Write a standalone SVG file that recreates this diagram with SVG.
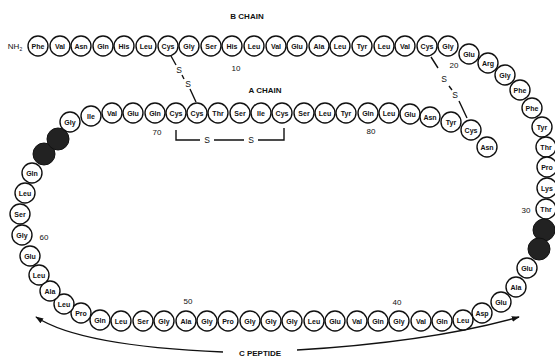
<svg xmlns="http://www.w3.org/2000/svg" width="555" height="362" viewBox="0 0 555 362">
<style>
.r circle{fill:#fff;stroke:#111;stroke-width:1.4}
.r text{font-family:"Liberation Sans",Arial,sans-serif;font-size:7px;font-weight:bold;fill:#111;text-anchor:middle}
.d circle{fill:#222;stroke:#111;stroke-width:1}
.lbl{font-family:"Liberation Sans",Arial,sans-serif;font-weight:bold;fill:#111;text-anchor:middle}
.num{font-family:"Liberation Sans",Arial,sans-serif;font-size:8px;fill:#111;text-anchor:middle}
.ln{fill:none;stroke:#111;stroke-width:1.4}
.ss{font-family:"Liberation Sans",Arial,sans-serif;font-size:8.5px;fill:#111;text-anchor:middle}
</style>
<defs>
<marker id="ah" viewBox="0 0 10 10" refX="9" refY="5" markerWidth="8" markerHeight="8" orient="auto-start-reverse" markerUnits="userSpaceOnUse">
<path d="M0,1.5 L10,5 L0,8.5 Z" fill="#111"/>
</marker>
</defs>
<rect width="555" height="362" fill="#fff"/>

<text class="lbl" x="247" y="19" font-size="8">B CHAIN</text>
<text class="lbl" x="265" y="93" font-size="8">A CHAIN</text>
<text class="lbl" x="260" y="356" font-size="8">C PEPTIDE</text>
<text class="num" x="15" y="49" font-size="7">NH<tspan font-size="5" dy="2">2</tspan></text>

<g id="labels">
<text class="num" x="236" y="71">10</text>
<text class="num" x="454" y="68">20</text>
<text class="num" x="526" y="213">30</text>
<text class="num" x="397" y="305">40</text>
<text class="num" x="188" y="304">50</text>
<text class="num" x="44" y="240">60</text>
<text class="num" x="157" y="135">70</text>
<text class="num" x="371" y="134">80</text>
</g>

<g id="connectors">
<path class="ln" d="M171,56 L176,65 M182,75 L184,79 M190,89 L196,102"/>
<text class="ss" x="179" y="73">S</text>
<text class="ss" x="188" y="87">S</text>
<path class="ln" d="M431,57 L438,68 M449,86 L452,90 M459,101 L467,118"/>
<text class="ss" x="444" y="82">S</text>
<text class="ss" x="455" y="98">S</text>
<path class="ln" d="M176,130 V140 H200 M214,140 H244 M258,140 H284 V128"/>
<text class="ss" x="207" y="143">S</text>
<text class="ss" x="251" y="143">S</text>
<path class="ln" marker-start="url(#ah)" d="M36,317 Q80,346 223,352"/>
<path class="ln" marker-end="url(#ah)" d="M297,350 Q430,342 519,317"/>
</g>

<g id="b1" class="r"><circle cx="38" cy="46" r="10"/><text x="38" y="48.5">Phe</text></g>
<g id="b2" class="r"><circle cx="60" cy="46" r="10"/><text x="60" y="48.5">Val</text></g>
<g id="b3" class="r"><circle cx="81" cy="46" r="10"/><text x="81" y="48.5">Asn</text></g>
<g id="b4" class="r"><circle cx="103" cy="46" r="10"/><text x="103" y="48.5">Gln</text></g>
<g id="b5" class="r"><circle cx="124" cy="46" r="10"/><text x="124" y="48.5">His</text></g>
<g id="b6" class="r"><circle cx="146" cy="46" r="10"/><text x="146" y="48.5">Leu</text></g>
<g id="b7" class="r"><circle cx="168" cy="46" r="10"/><text x="168" y="48.5">Cys</text></g>
<g id="b8" class="r"><circle cx="189" cy="46" r="10"/><text x="189" y="48.5">Gly</text></g>
<g id="b9" class="r"><circle cx="211" cy="46" r="10"/><text x="211" y="48.5">Ser</text></g>
<g id="b10" class="r"><circle cx="232" cy="46" r="10"/><text x="232" y="48.5">His</text></g>
<g id="b11" class="r"><circle cx="254" cy="46" r="10"/><text x="254" y="48.5">Leu</text></g>
<g id="b12" class="r"><circle cx="276" cy="46" r="10"/><text x="276" y="48.5">Val</text></g>
<g id="b13" class="r"><circle cx="297" cy="46" r="10"/><text x="297" y="48.5">Glu</text></g>
<g id="b14" class="r"><circle cx="319" cy="46" r="10"/><text x="319" y="48.5">Ala</text></g>
<g id="b15" class="r"><circle cx="340" cy="46" r="10"/><text x="340" y="48.5">Leu</text></g>
<g id="b16" class="r"><circle cx="362" cy="46" r="10"/><text x="362" y="48.5">Tyr</text></g>
<g id="b17" class="r"><circle cx="384" cy="46" r="10"/><text x="384" y="48.5">Leu</text></g>
<g id="b18" class="r"><circle cx="405" cy="46" r="10"/><text x="405" y="48.5">Val</text></g>
<g id="b19" class="r"><circle cx="427" cy="46" r="10"/><text x="427" y="48.5">Cys</text></g>
<g id="b20" class="r"><circle cx="448" cy="46" r="10"/><text x="448" y="48.5">Gly</text></g>
<g id="b21" class="r"><circle cx="469" cy="54" r="10"/><text x="469" y="56.5">Glu</text></g>
<g id="b22" class="r"><circle cx="488" cy="63" r="10"/><text x="488" y="65.5">Arg</text></g>
<g id="b23" class="r"><circle cx="505" cy="75" r="10"/><text x="505" y="77.5">Gly</text></g>
<g id="b24" class="r"><circle cx="520" cy="90" r="10"/><text x="520" y="92.5">Phe</text></g>
<g id="b25" class="r"><circle cx="532" cy="108" r="10"/><text x="532" y="110.5">Phe</text></g>
<g id="b26" class="r"><circle cx="542" cy="127" r="10"/><text x="542" y="129.5">Tyr</text></g>
<g id="b27" class="r"><circle cx="546" cy="147" r="10"/><text x="546" y="149.5">Thr</text></g>
<g id="b28" class="r"><circle cx="547" cy="167" r="10"/><text x="547" y="169.5">Pro</text></g>
<g id="b29" class="r"><circle cx="547" cy="188" r="10"/><text x="547" y="190.5">Lys</text></g>
<g id="b30" class="r"><circle cx="546" cy="209" r="10"/><text x="546" y="211.5">Thr</text></g>

<g id="c31" class="d"><circle cx="544" cy="230" r="11"/></g>
<g id="c32" class="d"><circle cx="539" cy="249" r="11"/></g>
<g id="c33" class="r"><circle cx="527" cy="268" r="10"/><text x="527" y="270.5">Glu</text></g>
<g id="c34" class="r"><circle cx="516" cy="287" r="10"/><text x="516" y="289.5">Ala</text></g>
<g id="c35" class="r"><circle cx="501" cy="302" r="10"/><text x="501" y="304.5">Glu</text></g>
<g id="c36" class="r"><circle cx="482" cy="313" r="10"/><text x="482" y="315.5">Asp</text></g>
<g id="c37" class="r"><circle cx="463" cy="320" r="10"/><text x="463" y="322.5">Leu</text></g>
<g id="c38" class="r"><circle cx="442" cy="321" r="10"/><text x="442" y="323.5">Gln</text></g>
<g id="c39" class="r"><circle cx="421" cy="321" r="10"/><text x="421" y="323.5">Val</text></g>
<g id="c40" class="r"><circle cx="399" cy="321" r="10"/><text x="399" y="323.5">Gly</text></g>
<g id="c41" class="r"><circle cx="378" cy="321" r="10"/><text x="378" y="323.5">Gln</text></g>
<g id="c42" class="r"><circle cx="357" cy="321" r="10"/><text x="357" y="323.5">Val</text></g>
<g id="c43" class="r"><circle cx="335" cy="321" r="10"/><text x="335" y="323.5">Glu</text></g>
<g id="c44" class="r"><circle cx="314" cy="321" r="10"/><text x="314" y="323.5">Leu</text></g>
<g id="c45" class="r"><circle cx="292" cy="321" r="10"/><text x="292" y="323.5">Gly</text></g>
<g id="c46" class="r"><circle cx="271" cy="321" r="10"/><text x="271" y="323.5">Gly</text></g>
<g id="c47" class="r"><circle cx="250" cy="321" r="10"/><text x="250" y="323.5">Gly</text></g>
<g id="c48" class="r"><circle cx="228" cy="321" r="10"/><text x="228" y="323.5">Pro</text></g>
<g id="c49" class="r"><circle cx="207" cy="321" r="10"/><text x="207" y="323.5">Gly</text></g>
<g id="c50" class="r"><circle cx="186" cy="321" r="10"/><text x="186" y="323.5">Ala</text></g>
<g id="c51" class="r"><circle cx="164" cy="321" r="10"/><text x="164" y="323.5">Gly</text></g>
<g id="c52" class="r"><circle cx="143" cy="321" r="10"/><text x="143" y="323.5">Ser</text></g>
<g id="c53" class="r"><circle cx="121" cy="321" r="10"/><text x="121" y="323.5">Leu</text></g>
<g id="c54" class="r"><circle cx="100" cy="320" r="10"/><text x="100" y="322.5">Gln</text></g>
<g id="c55" class="r"><circle cx="81" cy="313" r="10"/><text x="81" y="315.5">Pro</text></g>
<g id="c56" class="r"><circle cx="64" cy="304" r="10"/><text x="64" y="306.5">Leu</text></g>
<g id="c57" class="r"><circle cx="50" cy="291" r="10"/><text x="50" y="293.5">Ala</text></g>
<g id="c58" class="r"><circle cx="39" cy="275" r="10"/><text x="39" y="277.5">Leu</text></g>
<g id="c59" class="r"><circle cx="30" cy="256" r="10"/><text x="30" y="258.5">Glu</text></g>
<g id="c60" class="r"><circle cx="22" cy="235" r="10"/><text x="22" y="237.5">Gly</text></g>
<g id="c61" class="r"><circle cx="20" cy="214" r="10"/><text x="20" y="216.5">Ser</text></g>
<g id="c62" class="r"><circle cx="25" cy="193" r="10"/><text x="25" y="195.5">Leu</text></g>
<g id="c63" class="r"><circle cx="32" cy="173" r="10"/><text x="32" y="175.5">Gln</text></g>
<g id="c64" class="d"><circle cx="44" cy="154" r="11"/></g>
<g id="c65" class="d"><circle cx="58" cy="139" r="11"/></g>

<g id="a1" class="r"><circle cx="70" cy="122" r="10"/><text x="70" y="124.5">Gly</text></g>
<g id="a2" class="r"><circle cx="91" cy="116" r="10"/><text x="91" y="118.5">Ile</text></g>
<g id="a3" class="r"><circle cx="112" cy="113" r="10"/><text x="112" y="115.5">Val</text></g>
<g id="a4" class="r"><circle cx="133" cy="113" r="10"/><text x="133" y="115.5">Glu</text></g>
<g id="a5" class="r"><circle cx="155" cy="113" r="10"/><text x="155" y="115.5">Gln</text></g>
<g id="a6" class="r"><circle cx="176" cy="113" r="10"/><text x="176" y="115.5">Cys</text></g>
<g id="a7" class="r"><circle cx="197" cy="113" r="10"/><text x="197" y="115.5">Cys</text></g>
<g id="a8" class="r"><circle cx="218" cy="113" r="10"/><text x="218" y="115.5">Thr</text></g>
<g id="a9" class="r"><circle cx="240" cy="113" r="10"/><text x="240" y="115.5">Ser</text></g>
<g id="a10" class="r"><circle cx="261" cy="113" r="10"/><text x="261" y="115.5">Ile</text></g>
<g id="a11" class="r"><circle cx="282" cy="113" r="10"/><text x="282" y="115.5">Cys</text></g>
<g id="a12" class="r"><circle cx="304" cy="113" r="10"/><text x="304" y="115.5">Ser</text></g>
<g id="a13" class="r"><circle cx="325" cy="113" r="10"/><text x="325" y="115.5">Leu</text></g>
<g id="a14" class="r"><circle cx="346" cy="113" r="10"/><text x="346" y="115.5">Tyr</text></g>
<g id="a15" class="r"><circle cx="368" cy="113" r="10"/><text x="368" y="115.5">Gln</text></g>
<g id="a16" class="r"><circle cx="389" cy="113" r="10"/><text x="389" y="115.5">Leu</text></g>
<g id="a17" class="r"><circle cx="410" cy="114" r="10"/><text x="410" y="116.5">Glu</text></g>
<g id="a18" class="r"><circle cx="430" cy="117" r="10"/><text x="430" y="119.5">Asn</text></g>
<g id="a19" class="r"><circle cx="451" cy="122" r="10"/><text x="451" y="124.5">Tyr</text></g>
<g id="a20" class="r"><circle cx="471" cy="130" r="10"/><text x="471" y="132.5">Cys</text></g>
<g id="a21" class="r"><circle cx="487" cy="147" r="10"/><text x="487" y="149.5">Asn</text></g>
</svg>
